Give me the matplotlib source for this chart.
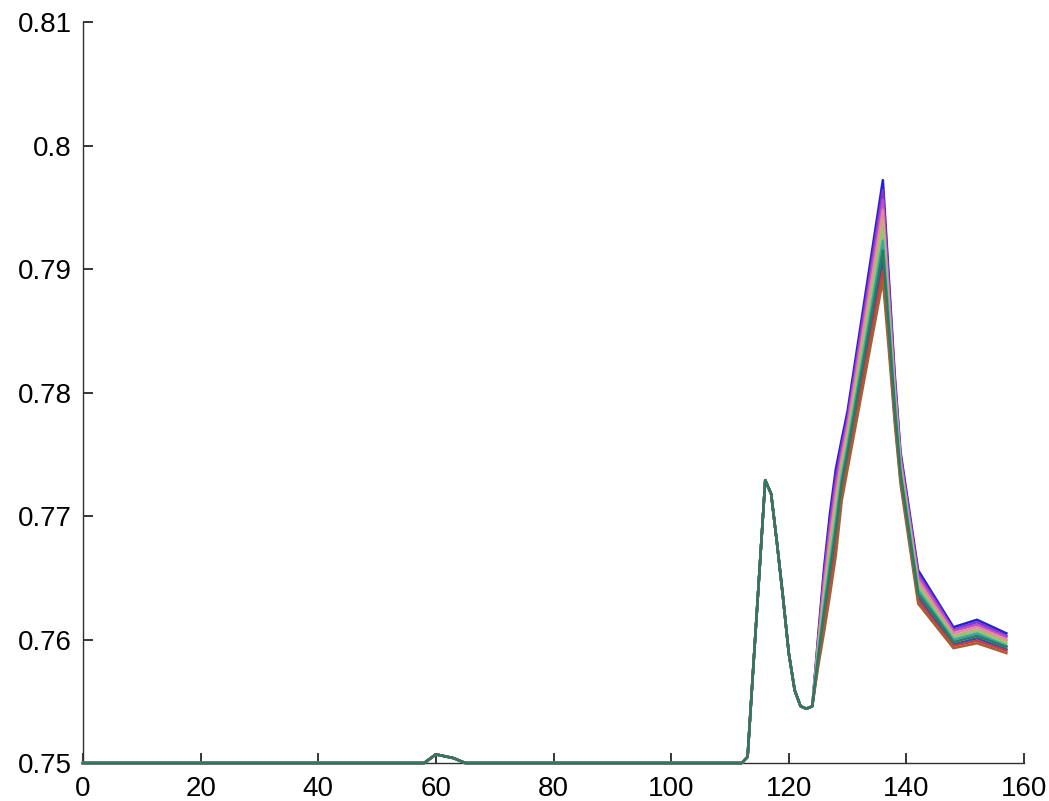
import matplotlib
matplotlib.use("Agg")
import matplotlib.pyplot as plt

# ----- datos -----
# tramo comun a todas las curvas (x <= 124)
x_comun = [0, 58, 60, 62, 63, 65, 112, 113, 114, 115, 116, 117, 118,
           119, 120, 121, 122, 123, 124]
y_comun = [0.75, 0.75, 0.7507, 0.7505, 0.7504, 0.75, 0.75, 0.7505, 0.7580,
           0.7654, 0.7729, 0.7718, 0.7678, 0.7635, 0.7589, 0.7559, 0.7546,
           0.7544, 0.7546]

# tramo final, una fila por curva (de arriba a abajo en el pico)
x_final = [125, 126, 127, 128, 129, 130, 136, 137, 138, 139, 142, 145, 148, 152, 157]
y_final = [
    [0.7603, 0.7658, 0.7702, 0.7738, 0.7762, 0.7785, 0.7972, 0.7894, 0.7816, 0.7752, 0.7656, 0.7633, 0.7610, 0.7616, 0.7605],
    [0.7600, 0.7653, 0.7695, 0.7731, 0.7757, 0.7780, 0.7964, 0.7888, 0.7812, 0.7749, 0.7653, 0.7631, 0.7608, 0.7614, 0.7603],
    [0.7598, 0.7648, 0.7689, 0.7724, 0.7752, 0.7776, 0.7956, 0.7882, 0.7808, 0.7747, 0.7651, 0.7629, 0.7607, 0.7612, 0.7602],
    [0.7596, 0.7642, 0.7682, 0.7717, 0.7747, 0.7771, 0.7948, 0.7876, 0.7804, 0.7744, 0.7648, 0.7626, 0.7605, 0.7610, 0.7600],
    [0.7593, 0.7637, 0.7676, 0.7710, 0.7742, 0.7766, 0.7940, 0.7870, 0.7800, 0.7742, 0.7645, 0.7624, 0.7603, 0.7608, 0.7599],
    [0.7591, 0.7632, 0.7669, 0.7703, 0.7737, 0.7762, 0.7932, 0.7865, 0.7796, 0.7739, 0.7643, 0.7622, 0.7602, 0.7607, 0.7597],
    [0.7588, 0.7627, 0.7662, 0.7696, 0.7732, 0.7757, 0.7923, 0.7859, 0.7792, 0.7736, 0.7640, 0.7620, 0.7600, 0.7605, 0.7595],
    [0.7583, 0.7616, 0.7649, 0.7682, 0.7722, 0.7747, 0.7907, 0.7847, 0.7784, 0.7731, 0.7634, 0.7615, 0.7596, 0.7601, 0.7592],
    [0.7581, 0.7611, 0.7643, 0.7675, 0.7717, 0.7743, 0.7899, 0.7841, 0.7780, 0.7729, 0.7632, 0.7613, 0.7595, 0.7599, 0.7591],
    [0.7578, 0.7606, 0.7636, 0.7668, 0.7712, 0.7738, 0.7891, 0.7835, 0.7776, 0.7726, 0.7629, 0.7611, 0.7593, 0.7597, 0.7589],
    [0.7586, 0.7622, 0.7656, 0.7689, 0.7727, 0.7752, 0.7915, 0.7853, 0.7788, 0.7734, 0.7637, 0.7618, 0.7598, 0.7603, 0.7594],
]
colores = ["#2020dd", "#8a33cc", "#c050c0", "#e08aa0", "#d0a878", "#90c878",
           "#3aa8a0", "#3a4aa8", "#d03a3a", "#a0623a", "#2b7a64"]

x_ticks = [0, 20, 40, 60, 80, 100, 120, 140, 160]
y_ticks = [0.75, 0.76, 0.77, 0.78, 0.79, 0.80, 0.81]
y_etiquetas = ["0.75", "0.76", "0.77", "0.78", "0.79", "0.8", "0.81"]

plt.rcParams["font.family"] = ["Liberation Sans", "DejaVu Sans"]

fig = plt.figure(figsize=(10.49, 8.01), dpi=100)
ax = fig.add_axes([0.0791, 0.0474, 0.8971, 0.9251])

for fila, color in zip(y_final, colores):
    ax.plot(x_comun + x_final, y_comun + fila, color=color, lw=1.8,
            clip_on=False, zorder=3)

ax.set_xlim(0, 160)
ax.set_ylim(0.75, 0.81)
ax.set_xticks(x_ticks)
ax.set_yticks(y_ticks)
ax.set_yticklabels(y_etiquetas)

for lado in ["top", "right"]:
    ax.spines[lado].set_visible(False)
for lado in ["left", "bottom"]:
    ax.spines[lado].set_color("#303030")
    ax.spines[lado].set_linewidth(1.0)

ax.tick_params(direction="in", length=7, width=1.1, colors="black",
               labelsize=20)
ax.tick_params(axis="y", pad=8)
ax.tick_params(axis="x", pad=9)

fig.savefig("out.png", dpi=100)
